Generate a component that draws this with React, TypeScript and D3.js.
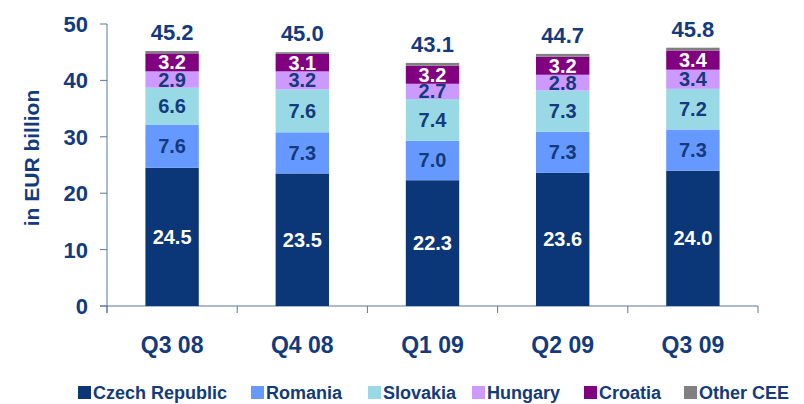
import * as d3 from 'd3';

const quarters = ['Q3 08', 'Q4 08', 'Q1 09', 'Q2 09', 'Q3 09'];
const seriesNames = ['Czech Republic', 'Romania', 'Slovakia', 'Hungary', 'Croatia', 'Other CEE'];
const czech = [24.5, 23.5, 22.3, 23.6, 24.0];
const romania = [7.6, 7.3, 7.0, 7.3, 7.3];
const slovakia = [6.6, 7.6, 7.4, 7.3, 7.2];
const hungary = [2.9, 3.2, 2.7, 2.8, 3.4];
const croatia = [3.2, 3.1, 3.2, 3.2, 3.4];
const otherCee = [0.4, 0.3, 0.5, 0.5, 0.5];
const totals = [45.2, 45.0, 43.1, 44.7, 45.8];
const yTicks = [0, 10, 20, 30, 40, 50];

const colors = ['#0b3677', '#6699ff', '#99d9e6', '#cc99ff', '#800080', '#808080'];
const labelColors = ['#ffffff', '#133a7c', '#133a7c', '#133a7c', '#ffffff', null];
const navy = '#133a7c';
const axisColor = '#5b77a3';
const font = '"Liberation Sans", Arial, sans-serif';

export default function App() {
  const width = 804;
  const height = 404;
  const left = 107;
  const right = 758;
  const top = 24;
  const bottom = 306;

  const rows = quarters.map((q, i) => ({
    q,
    'Czech Republic': czech[i],
    Romania: romania[i],
    Slovakia: slovakia[i],
    Hungary: hungary[i],
    Croatia: croatia[i],
    'Other CEE': otherCee[i],
  }));
  const stacked = d3.stack<any>().keys(seriesNames)(rows);

  const x = d3.scaleBand().domain(quarters).range([left, right]).paddingInner(0.59).paddingOuter(0.295);
  const band = d3.scaleBand().domain(quarters).range([left, right]);
  const y = d3.scaleLinear().domain([0, 50]).range([bottom, top]);

  const legendX = [78, 251, 368, 472, 584, 684];

  return (
    <svg width={width} height={height} style={{ position: 'absolute', left: 0, top: 0, background: '#fff' }}>
      {/* y axis */}
      <text transform={`translate(39,${(top + bottom) / 2 - 7}) rotate(-90)`} textAnchor="middle"
        fontFamily={font} fontWeight="bold" fontSize={21} fill={navy}>in EUR billion</text>
      <line x1={left} x2={left} y1={top} y2={313} stroke={axisColor} strokeWidth={1} />
      {yTicks.map(t => (
        <g key={t}>
          <line x1={100} x2={left} y1={y(t)} y2={y(t)} stroke={axisColor} />
          <text x={88} y={y(t) + 8} textAnchor="end" fontFamily={font} fontWeight="bold" fontSize={22} fill={navy}>{t}</text>
        </g>
      ))}
      {/* x axis */}
      <line x1={100} x2={right} y1={bottom} y2={bottom} stroke={axisColor} />
      {[...quarters.map(q => band(q) as number), right].map((p, i) => (
        <line key={i} x1={p} x2={p} y1={bottom} y2={313} stroke={axisColor} />
      ))}
      {quarters.map(q => (
        <text key={q} x={(band(q) as number) + band.bandwidth() / 2} y={353} textAnchor="middle"
          fontFamily={font} fontWeight="bold" fontSize={23} fill={navy}>{q}</text>
      ))}
      {/* bars */}
      {stacked.map((s, si) => (
        <g key={s.key}>
          {s.map((d, i) => (
            <rect key={i} x={x(quarters[i])} width={x.bandwidth()} y={y(d[1])} height={y(d[0]) - y(d[1])} fill={colors[si]} />
          ))}
          {labelColors[si] && s.map((d, i) => (
            <text key={'t' + i} x={(x(quarters[i]) as number) + x.bandwidth() / 2} y={(y(d[0]) + y(d[1])) / 2 + 7}
              textAnchor="middle" fontFamily={font} fontWeight="bold" fontSize={20} fill={labelColors[si] as string}>
              {(d[1] - d[0]).toFixed(1)}
            </text>
          ))}
        </g>
      ))}
      {totals.map((t, i) => (
        <text key={i} x={(x(quarters[i]) as number) + x.bandwidth() / 2} y={y(stacked[5][i][1]) - 11}
          textAnchor="middle" fontFamily={font} fontWeight="bold" fontSize={22} fill={navy}>{t.toFixed(1)}</text>
      ))}
      {/* legend */}
      {seriesNames.map((n, i) => (
        <g key={n}>
          <rect x={legendX[i]} y={386} width={13} height={13} fill={colors[i]} />
          <text x={legendX[i] + 15} y={399} fontFamily={font} fontWeight="bold" fontSize={18} fill={navy}>{n}</text>
        </g>
      ))}
    </svg>
  );
}
